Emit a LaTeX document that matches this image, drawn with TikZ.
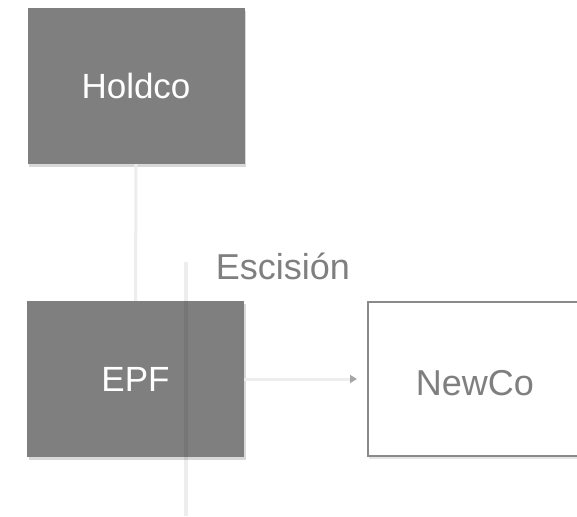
\documentclass[tikz,border=0pt]{standalone}
\usepackage{fontspec}
\setmainfont{Liberation Sans}
\usetikzlibrary{arrows.meta,shadows}
\definecolor{boxgrey}{HTML}{7F7F7F}
\definecolor{linegrey}{HTML}{EDEDED}
\definecolor{tipgrey}{HTML}{A6A6A6}
\definecolor{bordergrey}{HTML}{8A8A8A}
\tikzset{
  darkbox/.style={draw=none, fill=boxgrey, minimum width=217pt, minimum height=156pt, inner sep=0pt,
    text=white, font=\fontsize{35}{40}\selectfont,
    drop shadow={opacity=0.3, shadow xshift=1.5pt, shadow yshift=-3pt}},
  lightbox/.style={draw=bordergrey, line width=1.5pt, fill=white, minimum width=240pt, minimum height=154pt, inner sep=0pt,
    drop shadow={opacity=0.2, shadow xshift=1.5pt, shadow yshift=-3pt}},
  conn/.style={draw=linegrey, line width=3pt},
  faintline/.style={draw=black, draw opacity=0.07, line width=4pt},
  greytext/.style={text=boxgrey, font=\fontsize{36}{40}\selectfont, inner sep=0pt}
}
\begin{document}
\begin{tikzpicture}[x=1pt,y=1pt]
\useasboundingbox[fill=white] (0,0) rectangle (577,-516);
\node[darkbox] (holdco) at (136,-86) {Holdco};
\node[darkbox] (epf) at (135.5,-379) {EPF};
\node[lightbox, anchor=west] (newco) at (367,-379) {};
\node[greytext] (newcotext) at (475,-383) {NewCo};
\node[greytext] (escision) at (283,-266) {Escisión};
\coordinate (vtop) at (186,-262);
\coordinate (vbot) at (186,-516);
\draw[conn] (holdco.south) -- (epf.north);
\draw[faintline] (vtop) -- (vbot);
\draw[conn, -{Triangle[length=7pt,width=8pt,color=tipgrey]}, shorten >=10pt] (epf.east |- newco.west) -- (newco.west);
\end{tikzpicture}
\end{document}
